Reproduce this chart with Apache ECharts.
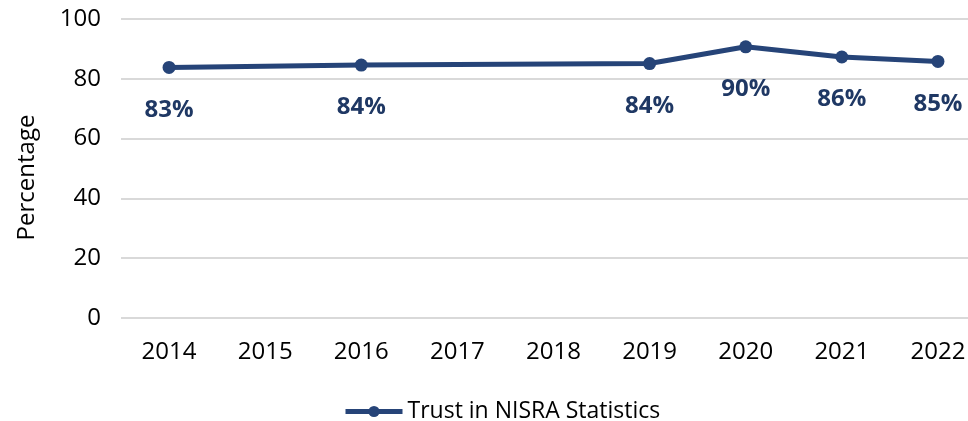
<!DOCTYPE html>
<html><head><meta charset="utf-8">
<script src="https://cdn.jsdelivr.net/npm/echarts@6/dist/echarts.min.js"></script>
<style>html,body{margin:0;padding:0;background:#fff}#c{width:968px;height:421px}</style>
</head><body><div id="c"></div>
<script>
const categories = ['2014','2015','2016','2017','2018','2019','2020','2021','2022'];
const trustValues = [83.8, null, 84.6, null, null, 85.1, 90.7, 87.3, 85.8];
const trustLabels = ['83%', '', '84%', '', '', '84%', '90%', '86%', '85%'];
const yTicks = [0, 20, 40, 60, 80, 100];
const seriesName = 'Trust in NISRA Statistics';

const FONT = '"Open Sans", "Noto Sans", sans-serif';
const chart = echarts.init(document.getElementById('c'));
chart.setOption({
  animation: false,
  textStyle: {fontFamily: FONT},
  grid: {left: 121, right: -18, top: 19, bottom: 103, containLabel: false, outerBoundsMode: 'none'},
  legend: {
    data: [seriesName], left: 338, top: 395,
    itemWidth: 57, itemHeight: 14, itemGap: 10,
    lineStyle: {width: 5},
    textStyle: {fontSize: 23, color: '#000', fontFamily: FONT}
  },
  xAxis: {
    type: 'category', data: categories, boundaryGap: true,
    axisLine: {show: false}, axisTick: {show: false},
    axisLabel: {fontSize: 24, color: '#000', margin: 22, fontFamily: FONT}
  },
  yAxis: {
    type: 'value', min: yTicks[0], max: yTicks[yTicks.length-1], interval: 20,
    name: 'Percentage', nameLocation: 'middle', nameGap: 82,
    nameTextStyle: {fontSize: 24, color: '#000', fontFamily: FONT, padding: [0, 18, 0, 0]},
    axisLabel: {fontSize: 24, color: '#000', margin: 20, fontFamily: FONT},
    splitLine: {lineStyle: {color: '#D9D9D9', width: 2}}
  },
  series: [{
    name: seriesName, type: 'line', data: trustValues, connectNulls: true,
    symbol: 'circle', symbolSize: 13,
    lineStyle: {color: '#264478', width: 5},
    itemStyle: {color: '#264478'},
    label: {
      show: true, position: 'bottom', distance: 24,
      fontSize: 24, fontWeight: 'bold', color: '#1F3864', fontFamily: FONT,
      formatter: p => trustLabels[p.dataIndex]
    }
  }]
});
</script></body></html>
